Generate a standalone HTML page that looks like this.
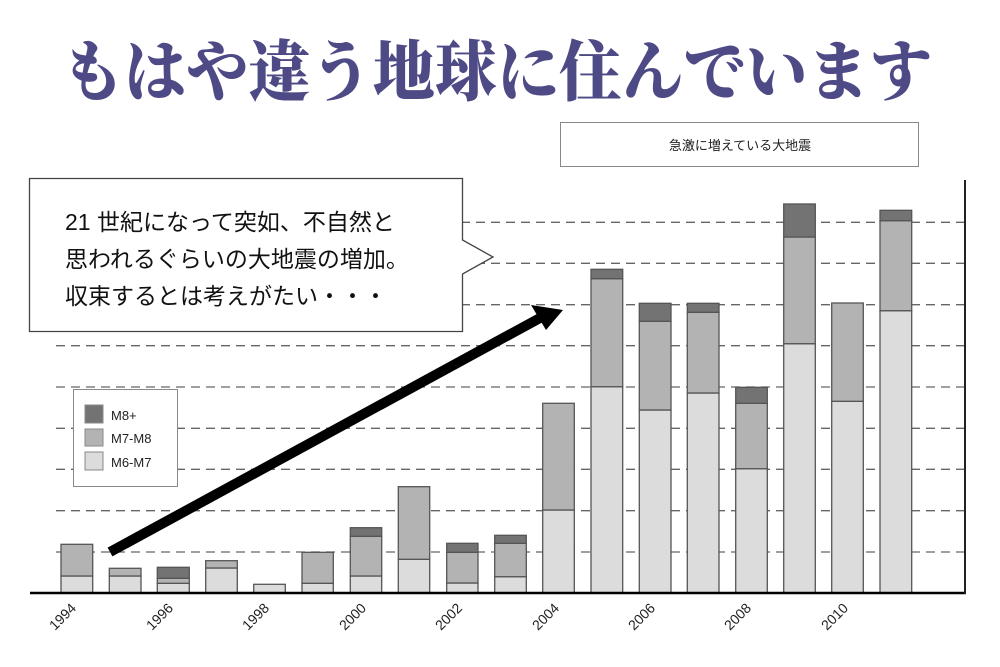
<!DOCTYPE html>
<html><head><meta charset="utf-8"><style>
html,body{margin:0;padding:0;background:#fff;}
svg{display:block;}
</style></head><body>
<svg width="1000" height="667" viewBox="0 0 1000 667" xmlns="http://www.w3.org/2000/svg">
<text x="497" y="95" text-anchor="middle" font-family="'Liberation Serif','Noto Serif CJK SC',serif" font-weight="900" font-size="66" fill="#4e4a86" textLength="870" lengthAdjust="spacingAndGlyphs">もはや違う地球に住んでいます</text>
<rect x="560.5" y="122.5" width="358" height="44" fill="#fff" stroke="#888" stroke-width="1"/>
<text x="740" y="150" text-anchor="middle" font-family="'Liberation Sans','Noto Sans CJK JP',sans-serif" font-size="13" fill="#222">急激に増えている大地震</text>
<g stroke="#666" stroke-width="1.3" stroke-dasharray="9,6">
<line x1="56" y1="222.3" x2="965" y2="222.3"/>
<line x1="56" y1="263.3" x2="965" y2="263.3"/>
<line x1="56" y1="304.7" x2="965" y2="304.7"/>
<line x1="56" y1="345.7" x2="965" y2="345.7"/>
<line x1="56" y1="387" x2="965" y2="387"/>
<line x1="56" y1="428.3" x2="965" y2="428.3"/>
<line x1="56" y1="469.3" x2="965" y2="469.3"/>
<line x1="56" y1="510.7" x2="965" y2="510.7"/>
<line x1="56" y1="552" x2="965" y2="552"/>
</g>
<g stroke="#555" stroke-width="1.3">
<rect x="61" y="576" width="31.7" height="16.7" fill="#dcdcdc"/><rect x="61" y="544.3" width="31.7" height="31.7" fill="#b3b3b3"/>
<rect x="109.3" y="576" width="31.7" height="16.7" fill="#dcdcdc"/><rect x="109.3" y="568.3" width="31.7" height="7.7" fill="#b3b3b3"/>
<rect x="157.3" y="583.3" width="32" height="9.4" fill="#dcdcdc"/><rect x="157.3" y="578.3" width="32" height="5" fill="#b3b3b3"/><rect x="157.3" y="567.3" width="32" height="11" fill="#737373"/>
<rect x="205.7" y="568" width="31.6" height="24.7" fill="#dcdcdc"/><rect x="205.7" y="560.7" width="31.6" height="7.3" fill="#b3b3b3"/>
<rect x="253.7" y="584.3" width="31.6" height="8.4" fill="#dcdcdc"/>
<rect x="302" y="583.3" width="31.3" height="9.4" fill="#dcdcdc"/><rect x="302" y="552.3" width="31.3" height="31" fill="#b3b3b3"/>
<rect x="350.3" y="576" width="31.4" height="16.7" fill="#dcdcdc"/><rect x="350.3" y="536.3" width="31.4" height="39.7" fill="#b3b3b3"/><rect x="350.3" y="527.7" width="31.4" height="8.6" fill="#737373"/>
<rect x="398.3" y="559.3" width="31.4" height="33.4" fill="#dcdcdc"/><rect x="398.3" y="486.7" width="31.4" height="72.6" fill="#b3b3b3"/>
<rect x="446.7" y="583" width="31.3" height="9.7" fill="#dcdcdc"/><rect x="446.7" y="552.3" width="31.3" height="30.7" fill="#b3b3b3"/><rect x="446.7" y="543.3" width="31.3" height="9" fill="#737373"/>
<rect x="494.7" y="576.7" width="31.6" height="16" fill="#dcdcdc"/><rect x="494.7" y="543.3" width="31.6" height="33.4" fill="#b3b3b3"/><rect x="494.7" y="535.3" width="31.6" height="8" fill="#737373"/>
<rect x="542.7" y="510" width="31.6" height="82.7" fill="#dcdcdc"/><rect x="542.7" y="403.3" width="31.6" height="106.7" fill="#b3b3b3"/>
<rect x="591" y="386.7" width="31.7" height="206" fill="#dcdcdc"/><rect x="591" y="278.7" width="31.7" height="108" fill="#b3b3b3"/><rect x="591" y="269.3" width="31.7" height="9.4" fill="#737373"/>
<rect x="639.3" y="410" width="31.7" height="182.7" fill="#dcdcdc"/><rect x="639.3" y="321.3" width="31.7" height="88.7" fill="#b3b3b3"/><rect x="639.3" y="303.3" width="31.7" height="18" fill="#737373"/>
<rect x="687.3" y="393" width="31.7" height="199.7" fill="#dcdcdc"/><rect x="687.3" y="312.3" width="31.7" height="80.7" fill="#b3b3b3"/><rect x="687.3" y="303.3" width="31.7" height="9" fill="#737373"/>
<rect x="735.7" y="468.7" width="31.6" height="124" fill="#dcdcdc"/><rect x="735.7" y="403.3" width="31.6" height="65.4" fill="#b3b3b3"/><rect x="735.7" y="387.3" width="31.6" height="16" fill="#737373"/>
<rect x="783.7" y="343.7" width="31.6" height="249" fill="#dcdcdc"/><rect x="783.7" y="237" width="31.6" height="106.7" fill="#b3b3b3"/><rect x="783.7" y="204" width="31.6" height="33" fill="#737373"/>
<rect x="831.7" y="401.3" width="31.6" height="191.4" fill="#dcdcdc"/><rect x="831.7" y="303" width="31.6" height="98.3" fill="#b3b3b3"/>
<rect x="880" y="310.7" width="31.7" height="282" fill="#dcdcdc"/><rect x="880" y="220.7" width="31.7" height="90" fill="#b3b3b3"/><rect x="880" y="210.3" width="31.7" height="10.4" fill="#737373"/>
</g>
<line x1="30" y1="593" x2="966" y2="593" stroke="#000" stroke-width="2.5"/>
<line x1="965" y1="180" x2="965" y2="594" stroke="#222" stroke-width="2"/>
<g font-family="'Liberation Sans','DejaVu Sans',sans-serif" font-size="14" fill="#222" text-anchor="end">
<text transform="translate(77,609) rotate(-45)">1994</text>
<text transform="translate(174,609) rotate(-45)">1996</text>
<text transform="translate(270,609) rotate(-45)">1998</text>
<text transform="translate(367,609) rotate(-45)">2000</text>
<text transform="translate(463,609) rotate(-45)">2002</text>
<text transform="translate(560,609) rotate(-45)">2004</text>
<text transform="translate(656,609) rotate(-45)">2006</text>
<text transform="translate(752,609) rotate(-45)">2008</text>
<text transform="translate(849,609) rotate(-45)">2010</text>
</g>
<rect x="73.5" y="389.5" width="104" height="97" fill="#fff" stroke="#888"/>
<rect x="85" y="405" width="18" height="18" fill="#737373" stroke="#888"/>
<rect x="85" y="429" width="18" height="17" fill="#b3b3b3" stroke="#888"/>
<rect x="85" y="452" width="18" height="18" fill="#dcdcdc" stroke="#888"/>
<g font-family="'Liberation Sans',sans-serif" font-size="13" fill="#222">
<text x="111" y="420">M8+</text><text x="111" y="443">M7-M8</text><text x="111" y="467">M6-M7</text>
</g>
<line x1="110" y1="552" x2="540" y2="318" stroke="#000" stroke-width="10"/>
<polygon points="563,310 531,305 546,330" fill="#000"/>
<path d="M29.5,178.5 H462.5 V240 L493,257 L462.5,274 V331.5 H29.5 Z" fill="#fff" stroke="#444" stroke-width="1.3"/>
<g font-family="'Liberation Sans','Noto Sans CJK JP',sans-serif" font-size="23" fill="#111">
<text x="65" y="230">21 世紀になって突如、不自然と</text>
<text x="65" y="267">思われるぐらいの大地震の増加。</text>
<text x="65" y="304">収束するとは考えがたい・・・</text>
</g>
</svg>
</body></html>
